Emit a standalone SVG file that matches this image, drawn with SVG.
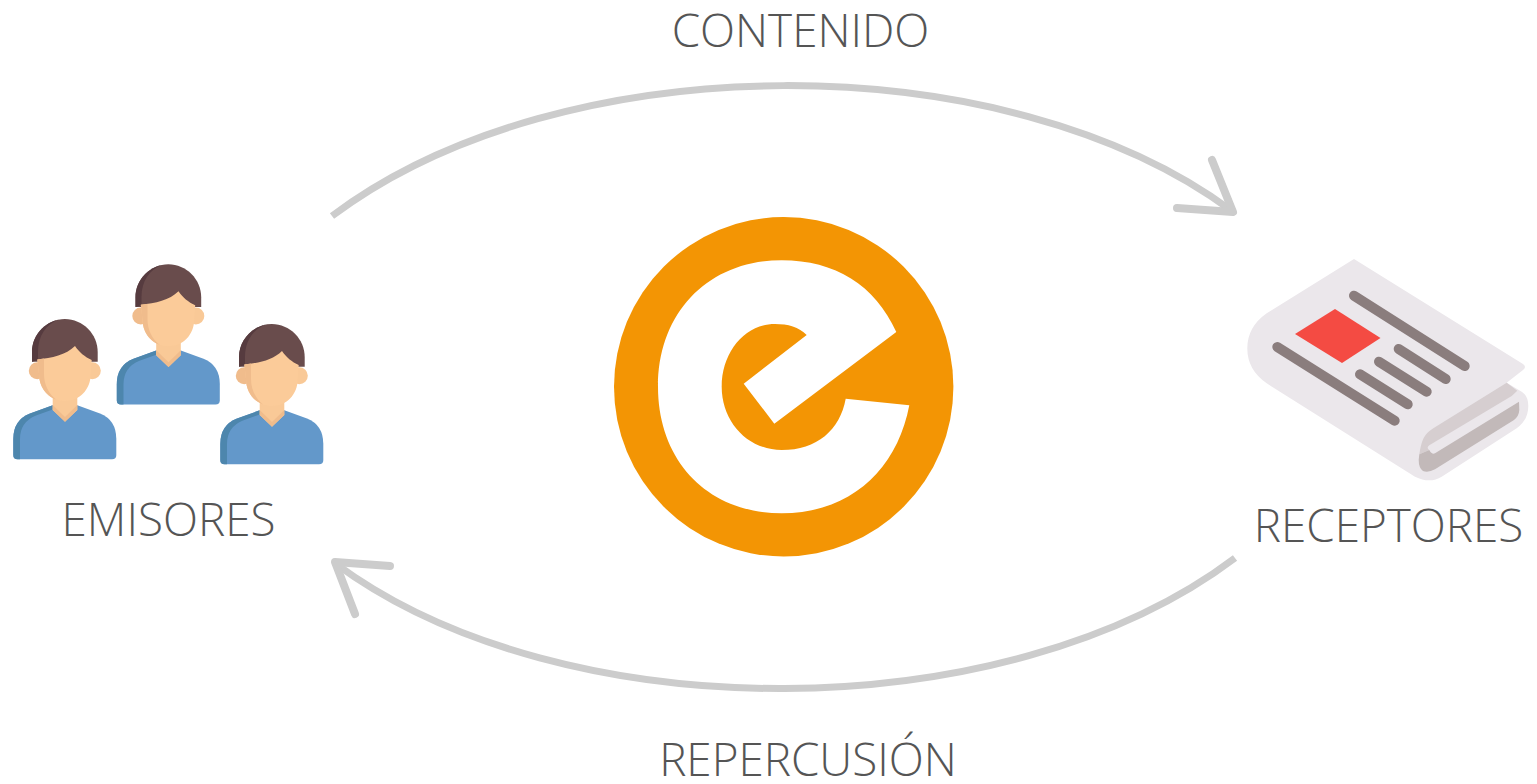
<svg xmlns="http://www.w3.org/2000/svg" width="1537" height="784" viewBox="0 0 1537 784">
<style>
.lbl{font-family:"Open Sans","Noto Sans","Liberation Sans",sans-serif;font-weight:300;font-size:45.800px;fill:#555;text-anchor:middle}
.arc{fill:none;stroke:#ccc;stroke-width:7}
.head{fill:none;stroke:#ccc;stroke-width:8;stroke-linecap:round;stroke-linejoin:round}
.bar{stroke:#8a7d7d;stroke-width:10;stroke-linecap:round;fill:none}
</style>
<defs>
<g id="person">
<path d="M52.700 405.300L30 413.500Q13.300 420 13.300 439V455Q13.300 459.300 17.500 459.300H112Q116.300 459.300 116.300 455V439Q116.300 420 100 413.500L77.300 405.300Z" fill="#6398ca"/>
<path d="M52.700 405.300L30 413.500Q13.300 420 13.300 439V455Q13.300 459.300 17.500 459.300H20V439Q20 422 36 415.500L52.700 409.500Z" fill="#4d86ad"/>
<path d="M52.700 390H77.300V410L65 421.700L52.700 410Z" fill="#f9c997"/>
<path d="M52.700 405L65 417L77.300 405V410L65 421.700L52.700 410Z" fill="#f0bc8c"/>
<path d="M32 361.700V352C32 334 47 319 64.850 319C82.700 319 97.700 334 97.700 352V361.700Z" fill="#694c4c"/>
<path d="M32 361.700V352C32 336 44 322.500 59 319.500C46 324 38 336 38 352V360Z" fill="#563b3f"/>
<circle cx="37.300" cy="370.700" r="8.500" fill="#f0bc8c"/>
<circle cx="92.300" cy="370.700" r="8.500" fill="#f9c997"/>
<path d="M37.300 359.500C52 358 66 355 75 346C79 352 85 357 91.700 360L90.700 374C90.700 390 79 401 65 401C51 401 39 390 39 374Z" fill="#fbcb99"/>
<path d="M37.300 359.500L44 358.600V374C44 385 49 394 56 399.500C46 396 39 386 39 374Z" fill="#f0bc8c"/>
</g>
</defs>
<g id="connectors">
<path class="arc" d="M332 216C562 43 1006 43 1232 211"/>
<path class="head" d="M1212 160L1233 212L1177 208"/>
<path class="arc" d="M1235 558C1006 731 562 731 336 564"/>
<path class="head" d="M390 566L335 562L355 614"/>
</g>
<g id="emisores">
<use href="#person" x="103.500" y="-54.700"/>
<use href="#person"/>
<use href="#person" x="207" y="5"/>
<text class="lbl" x="168.500" y="536">EMISORES</text>
</g>
<g id="logo">
<circle cx="783.700" cy="386.800" r="169.700" fill="#f39504"/>
<path fill="#fff" d="M896.300 332C875 285 835 260.300 781.700 260.300C708 260.300 658 313 658 386.700C658 461 708 513.300 781.700 513.300C850 513.300 897 470 909.300 405.300L845.700 398.700C840 430 817 450 781.700 450C748 450 721.700 422 721.700 386.700C721.700 352 745 324 775 324C788 324 799 327 806.700 335L743.700 383.700L774.300 423.700Z"/>
</g>
<g id="receptores">
<path fill="#ebe7eb" d="M1354 259L1523 364Q1527 367 1523 370L1506.700 382.700L1521.700 391.700Q1528.300 396 1528.300 406Q1528.300 420 1516.700 428.300L1441.700 476.700Q1430 484 1415 476.700L1266.700 383.300Q1247.300 370 1247.300 348.300Q1247.300 327 1266.700 313.300Z"/>
<path fill="#d6ced0" d="M1506.700 382.700L1517.300 390.700L1511.700 396L1429.300 445.300Q1426 448 1429.300 450L1419.300 454.300C1421.700 440 1424 434 1433.300 428.300Z"/>
<path fill="#c2b9b9" d="M1419.300 454.300L1429.300 450Q1432 455 1435 453.300L1519 401.700L1519.300 410Q1519 416 1514 420L1435 469.300Q1428.300 473 1423 471Q1418.700 468 1418.700 460Z"/>
<path fill="#f44b43" d="M1335 309L1380.500 338L1342 363L1295 334Z"/>
<g class="bar">
<path d="M1354 295.700L1464.700 366"/>
<path d="M1277.300 347L1394.700 420.700"/>
<path d="M1398.700 349L1445.700 379"/>
<path d="M1379 361.700L1426.700 391.700"/>
<path d="M1360 374.300L1407.700 404.300"/>
</g>
<text class="lbl" x="1388.500" y="542">RECEPTORES</text>
</g>
<text id="contenido" class="lbl" x="800.500" y="47">CONTENIDO</text>
<text id="repercusion" class="lbl" x="808" y="776">REPERCUSIÓN</text>
</svg>
